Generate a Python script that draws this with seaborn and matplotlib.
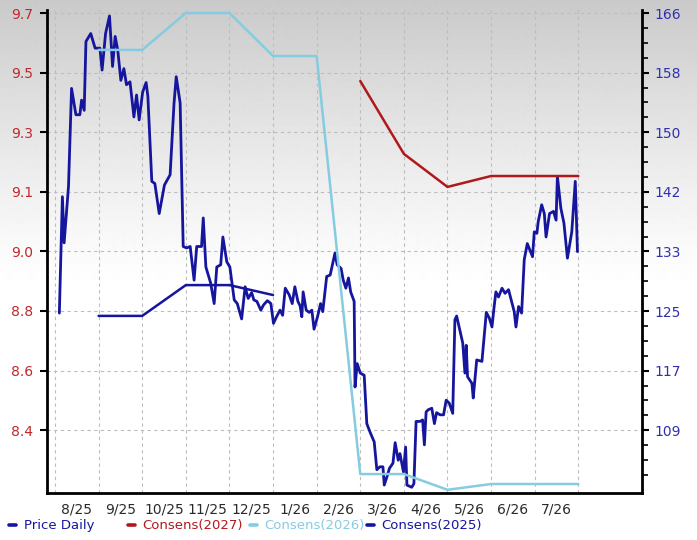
import numpy as np
import matplotlib
matplotlib.use("Agg")
import matplotlib.pyplot as plt
from matplotlib.lines import Line2D
from matplotlib.ticker import FixedLocator
import seaborn as sns

# ---------------- data ----------------
month_labels = ["8/25", "9/25", "10/25", "11/25", "12/25", "1/26",
                "2/26", "3/26", "4/26", "5/26", "6/26", "7/26"]

# time in months since start of Aug 2025
price_t = [0.10, 0.17, 0.21, 0.31, 0.38, 0.48, 0.57, 0.61, 0.67, 0.71,
           0.82, 0.92, 1.03, 1.08, 1.16, 1.25, 1.32, 1.38, 1.44, 1.51,
           1.58, 1.64, 1.72, 1.81, 1.87, 1.93, 2.01, 2.09, 2.13, 2.22,
           2.29, 2.39, 2.51, 2.64, 2.73, 2.78, 2.87, 2.94, 3.02, 3.10,
           3.19, 3.25, 3.36, 3.40, 3.46, 3.57, 3.65, 3.71, 3.80, 3.85,
           3.94, 4.01, 4.11, 4.18, 4.28, 4.36, 4.43, 4.51, 4.56, 4.63,
           4.72, 4.78, 4.87, 4.95, 5.01, 5.08, 5.16, 5.22, 5.28, 5.37,
           5.44, 5.50, 5.57, 5.62, 5.66, 5.69, 5.76, 5.83, 5.89, 5.94,
           6.02, 6.09, 6.14, 6.23, 6.31, 6.37, 6.42, 6.47, 6.56, 6.61,
           6.67, 6.73, 6.78, 6.86, 6.88, 6.93, 7.00, 7.09, 7.15, 7.22,
           7.32, 7.38, 7.45, 7.52, 7.55, 7.61, 7.67, 7.75, 7.80, 7.87,
           7.91, 7.99, 8.04, 8.07, 8.18, 8.23, 8.28, 8.37, 8.43, 8.47,
           8.51, 8.56, 8.64, 8.70, 8.75, 8.83, 8.91, 8.97, 9.04, 9.12,
           9.17, 9.21, 9.35, 9.40, 9.43, 9.46, 9.56, 9.59, 9.67, 9.79,
           9.89, 9.96, 10.02, 10.07, 10.11, 10.17, 10.25, 10.32, 10.40, 10.46,
           10.53, 10.57, 10.63, 10.70, 10.76, 10.83, 10.89, 10.95, 10.99, 11.05,
           11.08, 11.16, 11.22, 11.26, 11.34, 11.43, 11.49, 11.52, 11.60, 11.67,
           11.75, 11.85, 11.93, 11.98]

price_v = [125.0, 140.9, 134.6, 142.3, 155.7, 152.1, 152.1, 154.1, 152.7, 162.1,
           163.2, 161.2, 161.2, 158.2, 163.2, 165.6, 158.7, 162.8, 160.9, 156.8,
           158.4, 156.2, 156.6, 151.8, 154.8, 151.4, 155.2, 156.5, 154.6, 143.0,
           142.7, 138.6, 142.5, 143.9, 153.7, 157.3, 153.7, 134.1, 133.9, 134.1,
           129.5, 134.1, 134.1, 138.0, 131.3, 129.1, 126.3, 131.3, 131.6, 135.4,
           132.0, 131.3, 126.8, 126.3, 124.2, 128.6, 127.0, 127.8, 126.8, 126.6,
           125.4, 126.1, 126.7, 126.3, 123.6, 124.5, 125.4, 124.7, 128.4, 127.5,
           126.3, 128.6, 126.6, 126.0, 124.5, 127.9, 125.4, 125.1, 125.4, 122.8,
           124.5, 126.3, 125.2, 130.0, 130.2, 131.8, 133.2, 131.6, 131.1, 129.5,
           128.4, 129.8, 127.9, 126.6, 114.9, 118.1, 116.8, 116.5, 109.9, 108.8,
           107.4, 103.6, 104.0, 104.0, 101.5, 102.6, 103.8, 104.5, 107.3, 104.9,
           105.8, 103.3, 106.7, 101.5, 101.2, 101.7, 110.2, 110.2, 110.4, 107.0,
           111.5, 111.8, 112.0, 109.9, 111.4, 111.1, 111.1, 113.1, 112.7, 111.3,
           124.1, 124.6, 120.9, 116.8, 120.6, 116.3, 115.4, 113.4, 118.6, 118.4,
           125.1, 124.3, 123.1, 125.9, 127.9, 127.2, 128.4, 127.7, 128.2, 126.8,
           125.2, 123.1, 125.9, 125.0, 132.3, 134.5, 133.6, 132.7, 136.1, 135.9,
           137.5, 139.8, 138.6, 135.4, 138.6, 138.9, 137.7, 143.7, 139.3, 137.3,
           132.5, 136.1, 143.0, 133.4]

c2025_t = [1, 2, 3, 4, 5]
c2025_v = [8.756, 8.756, 8.852, 8.852, 8.821]

c2026_t = [1, 2, 3, 4, 5, 6, 7, 8, 9, 10, 11, 12]
c2026_v = [9.585, 9.585, 9.700, 9.700, 9.566, 9.566, 8.263, 8.263, 8.214, 8.232, 8.232, 8.232]

c2027_t = [7, 8, 9, 10, 11, 12]
c2027_v = [9.488, 9.261, 9.158, 9.192, 9.192, 9.192]

eps_tick_labels = ["9.7", "9.5", "9.3", "9.1", "9.0", "8.8", "8.6", "8.4"]
price_tick_labels = ["166", "158", "150", "142", "133", "125", "117", "109"]

legend_labels = ["Price Daily", "Consens(2027)", "Consens(2026)", "Consens(2025)"]

# ---------------- style ----------------
NAVY = "#15159e"
RED = "#b0191c"
LIGHT = "#86cbe0"
EPS_LBL = "#c0282d"
PRICE_LBL = "#3030b0"

sns.set_theme(style="white")
plt.rcParams['font.family'] = ['DejaVu Sans']

fig = plt.figure(figsize=(6.97, 5.40), dpi=100)

# background gradient
bg = fig.add_axes([0, 0, 1, 1], zorder=-10)
rows = np.arange(540)
shade = 1.0 - 0.21 * np.clip(1 - rows / 290.0, 0, 1) ** 1.2
bg.imshow(shade[:, None], cmap="gray", vmin=0, vmax=1, aspect="auto",
          extent=[0, 1, 0, 1], interpolation="bilinear")
bg.set_axis_off()

ax_p = fig.add_axes([47 / 697, 1 - 493 / 540, (642 - 47) / 697, (493 - 9.5) / 540])
ax_p.set_facecolor("none")
ax_c = ax_p.twinx()
ax_c.set_facecolor("none")

# price line (right axis)
sns.lineplot(x=price_t, y=price_v, ax=ax_p, color=NAVY, lw=2.0,
             estimator=None, sort=False, legend=False)

# consensus lines (left axis)
sns.lineplot(x=c2025_t, y=c2025_v, ax=ax_c, color=NAVY, lw=1.8,
             estimator=None, sort=False, legend=False)
sns.lineplot(x=c2026_t, y=c2026_v, ax=ax_c, color=LIGHT, lw=1.8,
             estimator=None, sort=False, legend=False)
sns.lineplot(x=c2027_t, y=c2027_v, ax=ax_c, color=RED, lw=1.8,
             estimator=None, sort=False, legend=False)

# limits
ax_p.set_xlim(-0.183, 13.46)
price_hi, price_lo = 166.48, 100.42
eps_hi, eps_lo = 9.711, 8.204
ax_p.set_ylim(price_lo, price_hi)
ax_c.set_ylim(eps_lo, eps_hi)

# y ticks
price_pos = np.linspace(166, 109, len(price_tick_labels))
step = (166 - 109) / 7 / 4
price_minor = [166 - k * step for k in range(1, 32) if k % 4 != 0]
ax_p.yaxis.tick_right()
ax_p.yaxis.set_major_locator(FixedLocator(price_pos))
ax_p.yaxis.set_minor_locator(FixedLocator(price_minor))
ax_p.set_yticklabels(price_tick_labels)
ax_p.tick_params(axis="y", which="major", length=5, width=1.5, pad=4,
                 color="black", labelcolor=PRICE_LBL, labelsize=10,
                 right=True, left=False)
ax_p.tick_params(axis="y", which="minor", length=4, width=1.2,
                 color="black", right=True, left=False)

eps_pos = np.linspace(9.7, 8.4, len(eps_tick_labels))
ax_c.yaxis.tick_left()
ax_c.yaxis.set_major_locator(FixedLocator(eps_pos))
ax_c.set_yticklabels(eps_tick_labels)
ax_c.tick_params(axis="y", which="major", length=5, width=1.5, pad=5,
                 color="black", labelcolor=EPS_LBL, labelsize=10,
                 left=True, right=False)

# x ticks
ax_p.xaxis.set_major_locator(FixedLocator(np.arange(len(month_labels)) + 0.5))
ax_p.xaxis.set_minor_locator(FixedLocator(np.arange(len(month_labels) + 1)))
ax_p.set_xticklabels(month_labels)
ax_p.tick_params(axis="x", which="both", length=0, pad=7,
                 labelsize=10, labelcolor="#2a2a2a", bottom=True)

# grid
ax_p.grid(False)
ax_c.grid(False)
ax_p.grid(which="minor", axis="x", ls=(0, (3, 3)), color="#bdbdbd", lw=0.8)
ax_p.grid(which="major", axis="y", ls=(0, (3, 3)), color="#bdbdbd", lw=0.8)
ax_p.set_axisbelow(True)

for s in ["left", "right", "bottom"]:
    ax_p.spines[s].set_visible(True)
    ax_p.spines[s].set_color("black")
    ax_p.spines[s].set_linewidth(2.0)
ax_p.spines["top"].set_visible(False)
for s in ax_c.spines.values():
    s.set_visible(False)

ax_p.set_xlabel("")
ax_p.set_ylabel("")
ax_c.set_xlabel("")
ax_c.set_ylabel("")

# legend items positioned along the bottom
legend_colors = [NAVY, RED, LIGHT, NAVY]
legend_x = [9, 128, 250, 367]
for lab, col, xp in zip(legend_labels, legend_colors, legend_x):
    fig.legend(handles=[Line2D([], [], color=col, lw=2.6)], labels=[lab],
               loc="center left", bbox_to_anchor=(xp / 697, 1 - 526 / 540),
               frameon=False, handlelength=0.5, handletextpad=0.6,
               borderpad=0, borderaxespad=0, fontsize=9.5, labelcolor=col)

fig.savefig("out.png", dpi=100)
